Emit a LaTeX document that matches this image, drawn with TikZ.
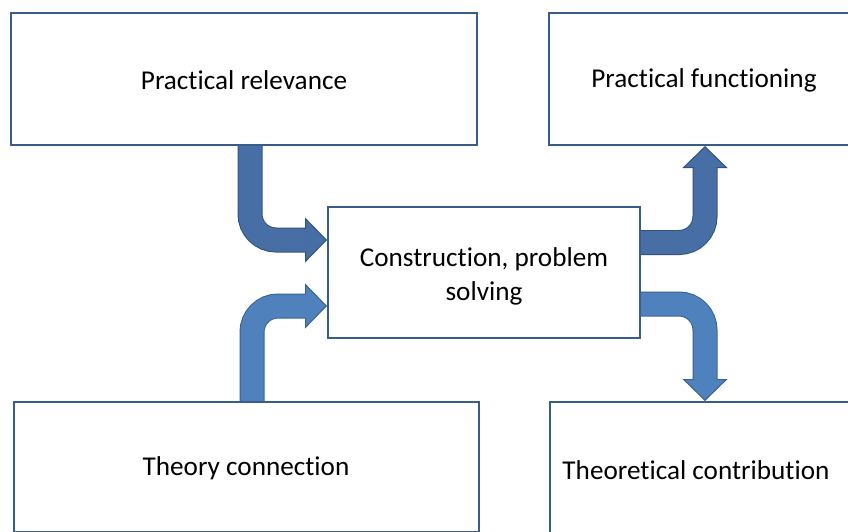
\documentclass[tikz,border=0pt]{standalone}
\usepackage{fontspec}
\setmainfont{Carlito}[Ligatures=NoCommon]
\usetikzlibrary{arrows.meta,backgrounds}

\definecolor{boxline}{RGB}{56,93,138}
\definecolor{darkfill}{RGB}{71,110,165}
\definecolor{darkline}{RGB}{50,82,126}
\definecolor{lightfill}{RGB}{79,129,189}
\definecolor{lightline}{RGB}{58,98,148}

\tikzset{
  box/.style={draw=boxline, line width=2pt, rectangle, inner sep=0pt},
  label/.style={inner sep=0pt, align=center, font=\fontsize{27.2}{34}\selectfont},
  % outline of a bent block arrow, with its head
  shaftedge/.style={line width=25pt, rounded corners=26pt, draw=#1line,
    -{Triangle[length=22pt,width=45pt,line width=1pt,fill=#1fill,color=#1line]}},
  % body of the same arrow, laid over the outline
  shaftbody/.style={line width=23pt, rounded corners=26pt, draw=#1fill,
    shorten >=20.5pt},
}

\begin{document}
\begin{tikzpicture}[x=1pt,y=-1pt]
  \path[use as bounding box] (0,0) rectangle (848,531);
  \clip (0,0) rectangle (848,531);

  % boxes
  \node[box, minimum width=466pt, minimum height=132pt] (pr) at (244,79) {};
  \node[box, minimum width=311pt, minimum height=132pt] (pf) at (704.5,79) {};
  \node[box, minimum width=312pt, minimum height=131pt] (cb) at (484,272.5) {};
  \node[box, minimum width=465.5pt, minimum height=130pt] (tc) at (246.25,467) {};
  \node[box, minimum width=350pt, minimum height=140pt] (tb) at (725,472) {};

  % box texts
  \node[label] (prt) at (244,80.5) {Practical relevance};
  \node[label] (pft) at (704,80.5) {Practical functioning};
  \node[label] (cbt) at (484,276) {Construction, problem\\solving};
  \node[label] (tct) at (246,468) {Theory connection};
  \node[label] (tbt) at (696,470) {Theoretical contribution};

  % end points of the block arrows
  \coordinate (s1) at (pr.south -| 250,0);
  \coordinate (t1) at (cb.west |- 0,240);
  \coordinate (s2) at (tc.north -| 252,0);
  \coordinate (t2) at (cb.west |- 0,306);
  \coordinate (s3) at (cb.east |- 0,242.5);
  \coordinate (t3) at (pf.south -| 705,0);
  \coordinate (s4) at (cb.east |- 0,304);
  \coordinate (t4) at (tb.north -| 705,0);

  \begin{scope}[on background layer]
    \draw[shaftedge=dark] (s1) |- (t1);
    \draw[shaftbody=dark] (s1) |- (t1);
    \draw[shaftedge=light] (s2) |- (t2);
    \draw[shaftbody=light] (s2) |- (t2);
    \draw[shaftedge=dark] (s3) -| (t3);
    \draw[shaftbody=dark] (s3) -| (t3);
    \draw[shaftedge=light] (s4) -| (t4);
    \draw[shaftbody=light] (s4) -| (t4);
  \end{scope}
\end{tikzpicture}
\end{document}
